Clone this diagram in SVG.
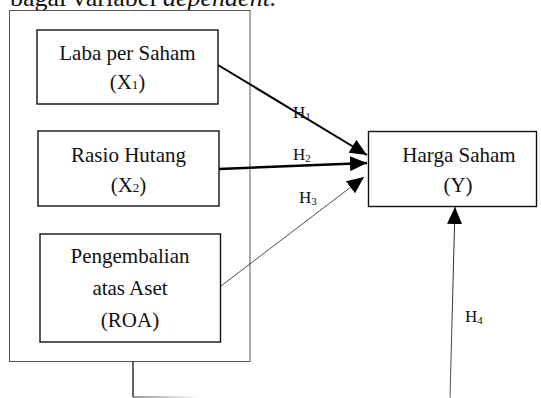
<svg xmlns="http://www.w3.org/2000/svg" width="541" height="398" viewBox="0 0 541 398">
<style>
text{font-family:"Liberation Serif","Times New Roman",serif;fill:#111}
.node{font-size:21px}
.box{fill:#fff;stroke:#111;stroke-width:1.4}
.lbl{font-size:17px}
.sub{font-size:11px}
</style>
<defs>
<marker id="ah" markerUnits="userSpaceOnUse" markerWidth="18" markerHeight="15" refX="17" refY="7.5" orient="auto">
<path d="M0,0 L17,7.5 L0,15 Z" fill="#000"/>
</marker>
<linearGradient id="fade" x1="133" y1="0" x2="200" y2="0" gradientUnits="userSpaceOnUse">
<stop offset="0" stop-color="#333"/>
<stop offset="1" stop-color="#fff"/>
</linearGradient>
<linearGradient id="h4g" x1="0" y1="398" x2="0" y2="210" gradientUnits="userSpaceOnUse">
<stop offset="0" stop-color="#555"/>
<stop offset="1" stop-color="#222"/>
</linearGradient>
</defs>
<text x="10" y="6" style="font-size:26px">bagai variabel <tspan font-style="italic">dependent.</tspan></text>
<g id="outer">
<rect x="9.5" y="10.5" width="240.5" height="351" fill="none" stroke="#555" stroke-width="1"/>
</g>
<g id="connectors" fill="none">
<line x1="218" y1="65" x2="367" y2="155" stroke="#000" stroke-width="2" marker-end="url(#ah)"/>
<line x1="219" y1="169" x2="367" y2="163" stroke="#000" stroke-width="2.5" marker-end="url(#ah)"/>
<line x1="221" y1="286" x2="364" y2="177" stroke="#222" stroke-width="0.8" marker-end="url(#ah)"/>
<line x1="450" y1="398" x2="455" y2="207" stroke="url(#h4g)" stroke-width="1" marker-end="url(#ah)"/>
<polyline points="133,361.5 133,397 450,397" stroke="url(#fade)" stroke-width="1"/>
<line x1="133" y1="361.5" x2="133" y2="397" stroke="#333" stroke-width="1"/>
<text class="lbl" x="293" y="118">H<tspan class="sub" dy="2">1</tspan></text>
<text class="lbl" x="293" y="160">H<tspan class="sub" dy="2">2</tspan></text>
<text class="lbl" x="299" y="203">H<tspan class="sub" dy="2">3</tspan></text>
<text class="lbl" x="465" y="322">H<tspan class="sub" dy="2">4</tspan></text>
</g>
<g id="x1">
<rect class="box" x="37" y="30" width="181" height="74"/>
<text class="node" x="127.5" y="60" text-anchor="middle">Laba per Saham</text>
<text class="node" x="127.5" y="89" text-anchor="middle">(X<tspan style="font-size:13px">1</tspan>)</text>
</g>
<g id="x2">
<rect class="box" x="38" y="131" width="181" height="75"/>
<text class="node" x="128.5" y="162" text-anchor="middle">Rasio Hutang</text>
<text class="node" x="128.5" y="192" text-anchor="middle">(X<tspan style="font-size:13px">2</tspan>)</text>
</g>
<g id="roa">
<rect class="box" x="40" y="234" width="180.5" height="108"/>
<text class="node" x="130" y="263" text-anchor="middle">Pengembalian</text>
<text class="node" x="130" y="295" text-anchor="middle">atas Aset</text>
<text class="node" x="130" y="327" text-anchor="middle">(ROA)</text>
</g>
<g id="y">
<rect class="box" x="368.5" y="131.5" width="168" height="75"/>
<text class="node" x="459" y="162" text-anchor="middle">Harga Saham</text>
<text class="node" x="458" y="192" text-anchor="middle">(Y)</text>
</g>
</svg>
